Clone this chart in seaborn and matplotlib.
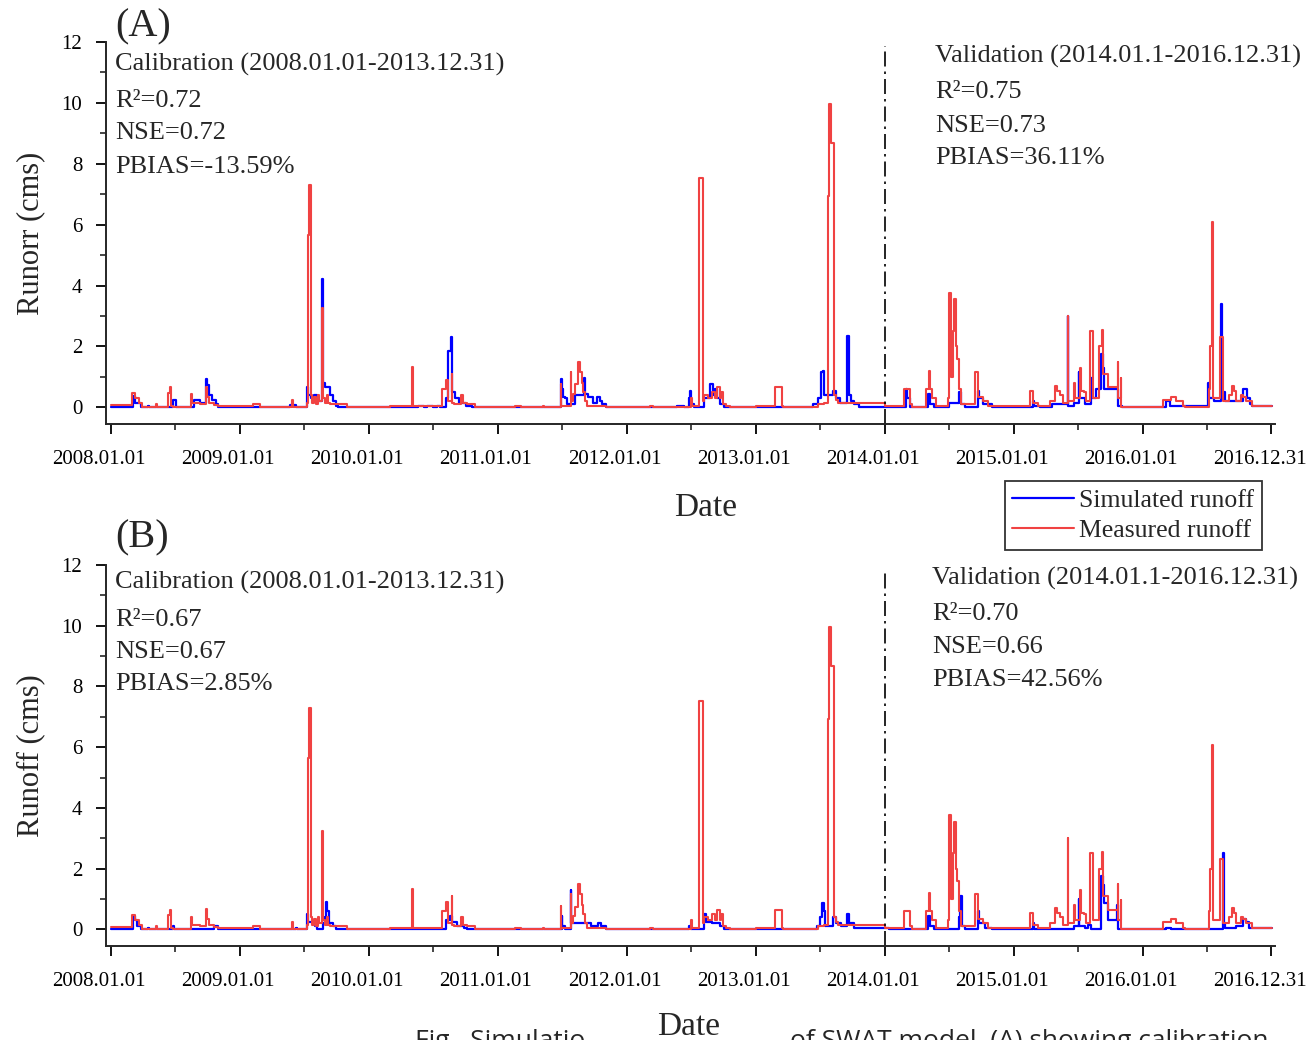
import numpy as np
import pandas as pd
import matplotlib
matplotlib.use('Agg')
import matplotlib.pyplot as plt
import matplotlib.dates as mdates
import matplotlib.transforms as mtransforms
import seaborn as sns

# measured runoff (same observations in both panels), decimal year / cms, step values
meas_t = [2008.000, 2008.160, 2008.190, 2008.220, 2008.238, 2008.350, 2008.356, 2008.444, 2008.458, 2008.468,
          2008.480, 2008.618, 2008.630, 2008.690, 2008.732, 2008.745, 2008.760, 2008.800, 2008.832, 2009.100,
          2009.155, 2009.405, 2009.412, 2009.517, 2009.528, 2009.537, 2009.548, 2009.560, 2009.575, 2009.590,
          2009.605, 2009.615, 2009.638, 2009.643, 2009.655, 2009.672, 2009.685, 2009.700, 2009.830, 2010.163,
          2010.333, 2010.338, 2010.570, 2010.595, 2010.610, 2010.640, 2010.645, 2010.660, 2010.715, 2010.730,
          2010.760, 2010.820, 2011.130, 2011.180, 2011.350, 2011.360, 2011.487, 2011.492, 2011.565, 2011.570,
          2011.585, 2011.600, 2011.625, 2011.635, 2011.650, 2011.660, 2011.675, 2011.690, 2011.840, 2012.180,
          2012.200, 2012.500, 2012.505, 2012.560, 2012.590, 2012.600, 2012.630, 2012.660, 2012.685, 2012.700,
          2012.720, 2012.730, 2012.745, 2012.770, 2012.800, 2013.000, 2013.147, 2013.199, 2013.210, 2013.480,
          2013.530, 2013.555, 2013.568, 2013.580, 2013.605, 2013.620, 2013.640, 2014.000, 2014.147, 2014.194,
          2014.210, 2014.320, 2014.340, 2014.348, 2014.365, 2014.400, 2014.490, 2014.500, 2014.515, 2014.525,
          2014.540, 2014.552, 2014.563, 2014.575, 2014.590, 2014.700, 2014.725, 2014.760, 2014.800, 2015.124,
          2015.150, 2015.190, 2015.280, 2015.320, 2015.335, 2015.360, 2015.385, 2015.418, 2015.424, 2015.470,
          2015.478, 2015.517, 2015.523, 2015.545, 2015.560, 2015.594, 2015.615, 2015.665, 2015.685, 2015.695,
          2015.730, 2015.806, 2015.812, 2015.830, 2015.836, 2016.160, 2016.220, 2016.260, 2016.310, 2016.330,
          2016.510, 2016.518, 2016.535, 2016.545, 2016.600, 2016.620, 2016.670, 2016.695, 2016.710, 2016.720,
          2016.760, 2016.780, 2016.800, 2016.850, 2016.999]
meas_v = [0.08, 0.47, 0.30, 0.15, 0.00, 0.10, 0.00, 0.47, 0.65, 0.05,
          0.00, 0.42, 0.15, 0.10, 0.67, 0.35, 0.15, 0.08, 0.05, 0.10,
          0.00, 0.25, 0.00, 0.15, 5.65, 7.30, 0.40, 0.15, 0.35, 0.10,
          0.40, 0.20, 3.25, 0.30, 0.15, 0.40, 0.15, 0.10, 0.00, 0.05,
          1.32, 0.05, 0.60, 0.90, 0.20, 1.10, 0.15, 0.10, 0.40, 0.15,
          0.10, 0.00, 0.05, 0.00, 0.05, 0.00, 0.78, 0.05, 1.16, 0.20,
          0.45, 0.75, 1.50, 1.15, 0.80, 0.50, 0.20, 0.05, 0.00, 0.05,
          0.00, 0.30, 0.05, 7.53, 0.20, 0.40, 0.30, 0.50, 0.30, 0.65,
          0.30, 0.50, 0.10, 0.05, 0.00, 0.05, 0.65, 0.05, 0.00, 0.10,
          0.15, 6.94, 9.97, 8.68, 0.40, 0.25, 0.15, 0.05, 0.60, 0.10,
          0.00, 0.60, 1.20, 0.60, 0.30, 0.05, 0.30, 3.75, 1.00, 2.50,
          3.55, 2.00, 1.60, 0.60, 0.10, 1.15, 0.35, 0.20, 0.05, 0.55,
          0.15, 0.05, 0.20, 0.70, 0.55, 0.40, 0.15, 3.00, 0.20, 0.80,
          0.30, 1.30, 0.55, 0.50, 0.20, 2.50, 0.30, 2.00, 2.55, 1.10,
          0.65, 1.50, 0.30, 0.95, 0.00, 0.25, 0.35, 0.20, 0.05, 0.00,
          0.60, 2.00, 6.08, 0.30, 2.30, 0.20, 0.40, 0.70, 0.55, 0.20,
          0.40, 0.35, 0.20, 0.05, 0.05]

# simulated runoff, panel A
sim_a_t = [2008.000, 2008.170, 2008.190, 2008.230, 2008.287, 2008.295, 2008.478, 2008.500, 2008.640, 2008.690,
           2008.735, 2008.745, 2008.760, 2008.780, 2008.810, 2008.830, 2009.390, 2009.430, 2009.517, 2009.527,
           2009.550, 2009.570, 2009.600, 2009.638, 2009.645, 2009.660, 2009.700, 2009.720, 2009.740, 2009.760,
           2010.380, 2010.430, 2010.450, 2010.500, 2010.530, 2010.550, 2010.600, 2010.615, 2010.635, 2010.645,
           2010.670, 2010.700, 2010.750, 2010.800, 2011.490, 2011.498, 2011.505, 2011.520, 2011.540, 2011.600,
           2011.670, 2011.678, 2011.700, 2011.735, 2011.770, 2011.790, 2011.810, 2011.838, 2012.385, 2012.440,
           2012.480, 2012.490, 2012.500, 2012.520, 2012.600, 2012.645, 2012.665, 2012.680, 2012.700, 2012.720,
           2012.750, 2013.440, 2013.480, 2013.505, 2013.520, 2013.530, 2013.600, 2013.620, 2013.650, 2013.705,
           2013.725, 2013.740, 2013.760, 2013.800, 2014.165, 2014.175, 2014.195, 2014.335, 2014.350, 2014.380,
           2014.500, 2014.578, 2014.590, 2014.620, 2014.720, 2014.730, 2014.760, 2014.830, 2015.150, 2015.160,
           2015.200, 2015.300, 2015.418, 2015.424, 2015.470, 2015.505, 2015.510, 2015.550, 2015.600, 2015.610,
           2015.640, 2015.675, 2015.690, 2015.700, 2015.810, 2015.840, 2016.180, 2016.210, 2016.480, 2016.506,
           2016.515, 2016.550, 2016.607, 2016.613, 2016.630, 2016.640, 2016.780, 2016.810, 2016.830, 2016.850,
           2016.999]
sim_a_v = [0.00, 0.36, 0.15, 0.00, 0.05, 0.00, 0.25, 0.00, 0.23, 0.15,
           0.94, 0.72, 0.40, 0.25, 0.10, 0.00, 0.07, 0.00, 0.65, 0.40,
           0.30, 0.40, 0.20, 4.22, 0.80, 0.65, 0.40, 0.20, 0.05, 0.00,
           0.05, 0.00, 0.05, 0.00, 0.05, 0.00, 0.30, 1.85, 2.30, 0.50,
           0.30, 0.15, 0.05, 0.00, 0.94, 0.60, 0.35, 0.30, 0.10, 0.40,
           0.95, 0.45, 0.35, 0.15, 0.35, 0.20, 0.10, 0.00, 0.05, 0.00,
           0.30, 0.55, 0.10, 0.00, 0.30, 0.75, 0.40, 0.60, 0.30, 0.10,
           0.00, 0.10, 0.30, 1.15, 1.20, 0.40, 0.55, 0.30, 0.15, 2.35,
           0.40, 0.20, 0.10, 0.00, 0.60, 0.30, 0.00, 0.45, 0.10, 0.00,
           0.15, 0.50, 0.10, 0.00, 0.55, 0.30, 0.10, 0.00, 0.20, 0.05,
           0.00, 0.10, 3.00, 0.05, 0.15, 1.15, 0.30, 0.10, 0.95, 0.30,
           0.60, 1.75, 1.30, 0.60, 0.05, 0.00, 0.20, 0.05, 0.05, 0.80,
           0.30, 0.20, 3.40, 0.30, 0.50, 0.20, 0.60, 0.30, 0.10, 0.05,
           0.05]

# simulated runoff, panel B
sim_b_t = [2008.000, 2008.170, 2008.185, 2008.200, 2008.230, 2008.287, 2008.295, 2008.478, 2008.490, 2008.800,
           2008.830, 2009.430, 2009.440, 2009.517, 2009.525, 2009.560, 2009.580, 2009.600, 2009.640, 2009.655,
           2009.665, 2009.675, 2009.690, 2009.720, 2009.740, 2010.600, 2010.630, 2010.645, 2010.680, 2010.740,
           2010.760, 2011.494, 2011.500, 2011.520, 2011.565, 2011.570, 2011.680, 2011.720, 2011.780, 2011.800,
           2011.840, 2012.480, 2012.500, 2012.600, 2012.610, 2012.660, 2012.720, 2012.750, 2013.470, 2013.500,
           2013.510, 2013.525, 2013.535, 2013.600, 2013.620, 2013.660, 2013.710, 2013.725, 2013.760, 2014.030,
           2014.335, 2014.350, 2014.380, 2014.575, 2014.585, 2014.595, 2014.620, 2014.720, 2014.730, 2014.780,
           2014.830, 2015.150, 2015.160, 2015.470, 2015.505, 2015.510, 2015.550, 2015.580, 2015.600, 2015.675,
           2015.690, 2015.700, 2015.730, 2015.800, 2015.810, 2016.180, 2016.220, 2016.620, 2016.630, 2016.640,
           2016.720, 2016.780, 2016.800, 2016.820, 2016.999]
sim_b_v = [0.00, 0.45, 0.30, 0.10, 0.00, 0.05, 0.00, 0.10, 0.00, 0.10,
           0.00, 0.05, 0.00, 0.50, 0.25, 0.25, 0.10, 0.00, 0.20, 0.40,
           0.90, 0.60, 0.20, 0.10, 0.00, 0.30, 0.45, 0.25, 0.10, 0.05,
           0.00, 0.45, 0.10, 0.00, 1.30, 0.20, 0.20, 0.10, 0.20, 0.10,
           0.00, 0.10, 0.00, 0.50, 0.25, 0.20, 0.10, 0.00, 0.10, 0.40,
           0.85, 0.60, 0.10, 0.40, 0.20, 0.10, 0.50, 0.20, 0.05, 0.00,
           0.45, 0.10, 0.00, 0.40, 1.10, 0.10, 0.00, 0.60, 0.20, 0.05,
           0.00, 0.20, 0.00, 0.10, 1.00, 0.10, 0.05, 0.15, 0.00, 1.75,
           1.45, 0.85, 0.30, 0.80, 0.00, 0.05, 0.00, 2.50, 0.20, 0.05,
           0.10, 0.35, 0.25, 0.05, 0.05]

tick_dates = ['2008-01-01', '2009-01-01', '2010-01-01', '2011-01-01', '2012-01-01',
              '2013-01-01', '2014-01-01', '2015-01-01', '2016-01-01', '2016-12-31']
split_date = '2014-01-01'

stats_a = ['Calibration (2008.01.01-2013.12.31)', 'R²=0.72', 'NSE=0.72', 'PBIAS=-13.59%']
valid_a = ['Validation (2014.01.1-2016.12.31)', 'R²=0.75', 'NSE=0.73', 'PBIAS=36.11%']
stats_b = ['Calibration (2008.01.01-2013.12.31)', 'R²=0.67', 'NSE=0.67', 'PBIAS=2.85%']
valid_b = ['Validation (2014.01.1-2016.12.31)', 'R²=0.70', 'NSE=0.66', 'PBIAS=42.56%']


def to_dates(years):
    out = []
    for y in years:
        yr = int(np.floor(y))
        start = pd.Timestamp(yr, 1, 1)
        ndays = (pd.Timestamp(yr + 1, 1, 1) - start).days
        out.append(start + pd.Timedelta(days=(y - yr) * ndays))
    return out


sns.set_theme(style='ticks')
plt.rcParams['font.family'] = ['Liberation Serif', 'DejaVu Serif']
plt.rcParams['axes.linewidth'] = 1.4

meas = pd.DataFrame({'date': to_dates(meas_t), 'runoff': meas_v})
sim_a = pd.DataFrame({'date': to_dates(sim_a_t), 'runoff': sim_a_v})
sim_b = pd.DataFrame({'date': to_dates(sim_b_t), 'runoff': sim_b_v})

BLUE = '#0000ff'
RED = '#f04242'

fig = plt.figure(figsize=(13.11, 10.4), dpi=100)
ax_a = fig.add_axes([106 / 1311, 616 / 1040, 1169 / 1311, 382 / 1040])
ax_b = fig.add_axes([106 / 1311, 94 / 1040, 1169 / 1311, 381 / 1040])

panels = [(ax_a, sim_a, '(A)', 'Runorr (cms)', stats_a, valid_a),
          (ax_b, sim_b, '(B)', 'Runoff (cms)', stats_b, valid_b)]

shift_left = mtransforms.ScaledTranslation(-12 / 100, 0, fig.dpi_scale_trans)

for ax, sim, tag, ylab, cal_txt, val_txt in panels:
    sns.lineplot(data=sim, x='date', y='runoff', ax=ax, color=BLUE, lw=1.6,
                 drawstyle='steps-post', estimator=None, sort=False, label='Simulated runoff')
    sns.lineplot(data=meas, x='date', y='runoff', ax=ax, color=RED, lw=1.5,
                 drawstyle='steps-post', estimator=None, sort=False, label='Measured runoff')
    ax.get_legend().remove()

    ax.axvline(pd.Timestamp(split_date), ymin=0, ymax=0.99, color='black', lw=1.2,
               linestyle=(0, (9, 3, 1.5, 3)))

    ax.set_xlim(pd.Timestamp('2007-12-18'), pd.Timestamp('2017-01-10'))
    ax.set_ylim(-0.55, 12)
    ax.set_yticks(np.arange(0, 13, 2))
    ax.set_yticks(np.arange(1, 12, 2), minor=True)
    ticks = [mdates.date2num(pd.Timestamp(d)) for d in tick_dates]
    ax.set_xticks(ticks)
    ax.set_xticklabels([pd.Timestamp(d).strftime('%Y.%m.%d') for d in tick_dates])
    ax.xaxis.set_minor_locator(mdates.MonthLocator(bymonth=7))
    ax.tick_params(axis='both', which='major', direction='out', length=7, width=1.3,
                   labelsize=15, colors='black')
    ax.tick_params(axis='both', which='minor', direction='out', length=4, width=1.2)
    ax.tick_params(axis='x', pad=12)
    ax.tick_params(axis='y', pad=10)
    for lab in ax.get_xticklabels():
        lab.set_transform(lab.get_transform() + shift_left)
    sns.despine(ax=ax)

    ax.set_ylabel(ylab, fontsize=22, labelpad=12)
    ax.set_xlabel('Date', fontsize=24)
    ax.xaxis.set_label_coords(0.513 if tag == '(A)' else 0.498, -0.18 if tag == '(A)' else -0.172)

    ax.text(0.0075, 1.04 if tag == '(A)' else 1.072, tag, transform=ax.transAxes,
            fontsize=29, ha='left', va='center')
    ys_cal = [0.942, 0.846, 0.762, 0.673] if tag == '(A)' else [0.953, 0.856, 0.772, 0.688]
    ys_val = [0.963, 0.869, 0.780, 0.696] if tag == '(A)' else [0.966, 0.871, 0.785, 0.698]
    x_val = 0.709 if tag == '(A)' else 0.707
    for s, yy in zip(cal_txt, ys_cal):
        ax.text(0.0077, yy, s, transform=ax.transAxes, fontsize=19, ha='left', va='center')
    for s, yy in zip(val_txt, ys_val):
        ax.text(x_val, yy, s, transform=ax.transAxes, fontsize=19, ha='left', va='center')

handles, labels = ax_a.get_lines()[:2], ['Simulated runoff', 'Measured runoff']
leg = fig.legend(handles, labels, loc='upper right', bbox_to_anchor=(1262 / 1311, 1 - 481 / 1040),
                 borderaxespad=0, fontsize=18.5, frameon=True, fancybox=False, edgecolor='black',
                 handlelength=2.4, handletextpad=0.2, borderpad=0.3, labelspacing=0.3)
leg.get_frame().set_linewidth(1.3)

fig.text(415 / 1311, 11 / 1040, 'Fig.  Simulatio', fontsize=19, family=['Open Sans', 'DejaVu Sans'],
         ha='left', va='top')
fig.text(790 / 1311, 11 / 1040, 'of SWAT model. (A) showing calibration', fontsize=19,
         family=['Open Sans', 'DejaVu Sans'], ha='left', va='top')

fig.savefig('out.png', dpi=100)
